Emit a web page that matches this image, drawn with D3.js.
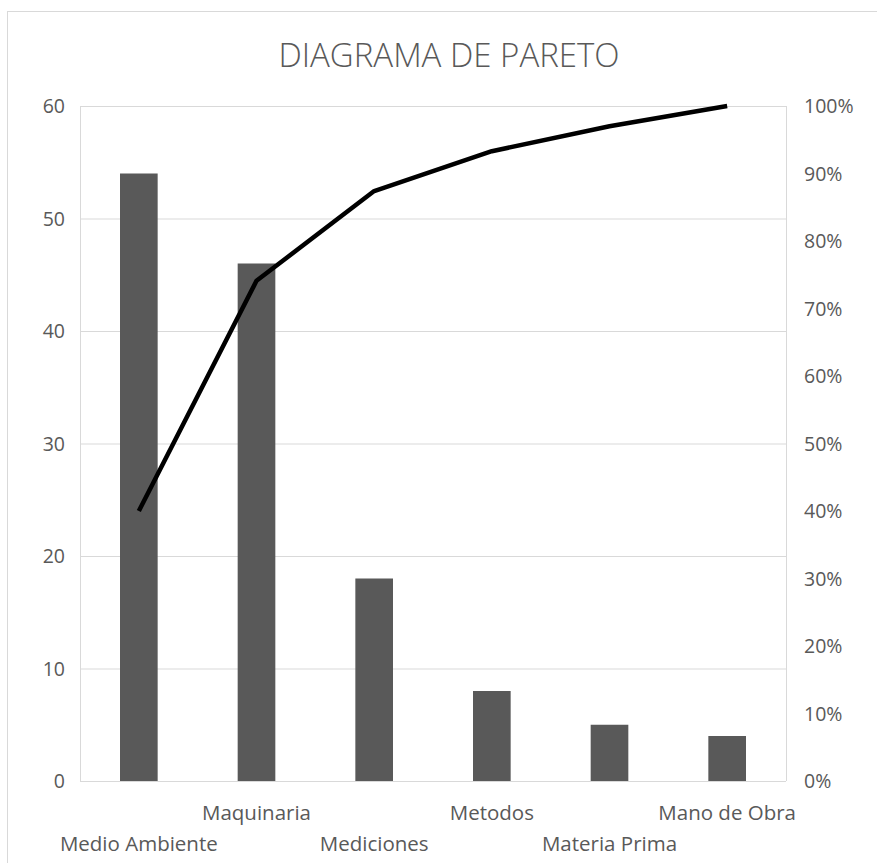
<!DOCTYPE html>
<html><head><meta charset="utf-8">
<script src="https://cdn.jsdelivr.net/npm/d3@7"></script>
<style>body{margin:0;background:#fff;} text{font-family:"Open Sans","Noto Sans",sans-serif;fill:#595959;}</style>
</head><body>
<svg id="c" width="877" height="863"></svg>
<script>
const categories = ["Medio Ambiente","Maquinaria","Mediciones","Metodos","Materia Prima","Mano de Obra"];
const values = [54,46,18,8,5,4];
const cumulativePct = [40.0,74.1,87.4,93.3,97.0,100.0];
const leftTicks = [0,10,20,30,40,50,60];
const rightTicks = [0,10,20,30,40,50,60,70,80,90,100];
const title = "DIAGRAMA DE PARETO";

const svg = d3.select("#c");
const m = {l:80, r:786, t:106, b:781};
svg.append("rect").attr("x",7.5).attr("y",11.5).attr("width",900).attr("height",900)
  .attr("fill","#fff").attr("stroke","#d9d9d9");

const x = d3.scaleBand().domain(categories).range([m.l,m.r]).paddingInner(0.68).paddingOuter(0.34);
const y = d3.scaleLinear().domain([0,60]).range([m.b,m.t]);
const y2 = d3.scaleLinear().domain([0,100]).range([m.b,m.t]);

svg.append("g").selectAll("line").data(leftTicks).join("line")
  .attr("x1",m.l).attr("x2",m.r).attr("y1",d=>y(d)+0.5).attr("y2",d=>y(d)+0.5)
  .attr("stroke","#d9d9d9").attr("stroke-width",1);
svg.append("line").attr("x1",m.l+0.5).attr("x2",m.l+0.5).attr("y1",m.t).attr("y2",m.b).attr("stroke","#d9d9d9");
svg.append("line").attr("x1",m.r+0.5).attr("x2",m.r+0.5).attr("y1",m.t).attr("y2",m.b).attr("stroke","#d9d9d9");

const fs = "19.5px";
const ga = svg.append("g").attr("transform",`translate(${m.l-15},0)`)
  .call(d3.axisLeft(y).tickValues(leftTicks).tickSize(0).tickPadding(0));
ga.select(".domain").remove();
ga.selectAll("text").style("font-size",fs).attr("fill","#595959").attr("dy","0.35em");

const gb = svg.append("g").attr("transform",`translate(${m.r+18},0)`)
  .call(d3.axisRight(y2).tickValues(rightTicks).tickFormat(d=>d+"%").tickSize(0).tickPadding(0));
gb.select(".domain").remove();
gb.selectAll("text").style("font-size",fs).attr("fill","#595959").attr("dy","0.35em");

svg.append("g").selectAll("rect").data(values).join("rect")
  .attr("x",(d,i)=>x(categories[i])).attr("width",x.bandwidth())
  .attr("y",d=>y(d)).attr("height",d=>m.b-y(d)).attr("fill","#595959");

const line = d3.line().x((d,i)=>x(categories[i])+x.bandwidth()/2).y(d=>y2(d));
svg.append("path").datum(cumulativePct).attr("d",line)
  .attr("fill","none").attr("stroke","#000").attr("stroke-width",4.5).attr("stroke-linejoin","round");

svg.append("g").selectAll("text").data(categories).join("text")
  .attr("x",d=>x(d)+x.bandwidth()/2).attr("y",(d,i)=>i%2===0?851:820)
  .attr("text-anchor","middle").style("font-size","20.5px").text(d=>d);

svg.append("text").attr("x",449).attr("y",67).attr("text-anchor","middle")
  .style("font-size","33px").style("font-weight","300").text(title);
</script>
</body></html>
